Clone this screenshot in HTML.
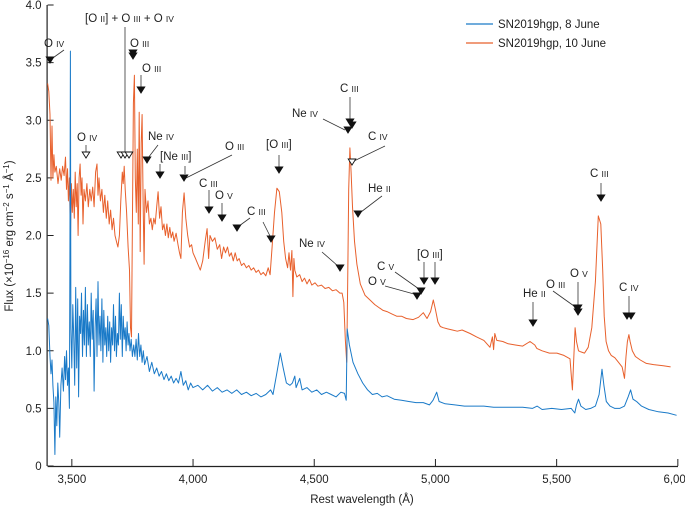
<!DOCTYPE html>
<html><head><meta charset="utf-8"><style>
html,body{margin:0;padding:0;background:#fff;}
svg{display:block;font-family:"Liberation Sans",Arial,sans-serif;}
.lab{font-size:11.5px;fill:#222;}
.sm{font-size:8.5px;}
</style></head><body>
<svg id="chart" width="685" height="516" viewBox="0 0 685 516"></svg>
<script>
const xTicks=[3500,4000,4500,5000,5500,6000];
const xTickLabels=["3,500","4,000","4,500","5,000","5,500","6,000"];
const yTicks=[0,0.5,1,1.5,2,2.5,3,3.5,4];
const yTickLabels=["0","0.5","1.0","1.5","2.0","2.5","3.0","3.5","4.0"];
const blueWave=[3400,3405,3410,3414,3418,3422,3426,3430,3434,3438,3442,3446,3450,3455,3460,3465,3470,3474,3478,3482,3486,3490,3492,3494,3496,3500,3504,3508,3512,3516,3520,3524,3528,3532,3536,3540,3544,3548,3552,3556,3560,3564,3568,3572,3576,3580,3584,3588,3592,3596,3600,3604,3608,3612,3616,3620,3624,3628,3632,3636,3640,3644,3648,3652,3656,3660,3664,3668,3672,3676,3680,3684,3688,3692,3696,3700,3704,3708,3712,3716,3720,3724,3728,3732,3736,3740,3745,3750,3755,3760,3765,3770,3775,3780,3785,3790,3795,3800,3810,3820,3830,3840,3850,3860,3870,3880,3890,3900,3910,3920,3930,3940,3950,3960,3970,3980,3990,4000,4020,4040,4060,4080,4100,4120,4140,4160,4180,4200,4220,4240,4260,4280,4300,4320,4330,4345,4360,4372,4385,4400,4410,4420,4425,4440,4450,4470,4490,4510,4530,4550,4570,4590,4610,4625,4632,4636,4645,4660,4680,4700,4720,4740,4760,4780,4800,4830,4860,4890,4920,4950,4975,4990,5005,5015,5040,5080,5120,5160,5200,5240,5280,5320,5360,5400,5420,5440,5480,5520,5560,5575,5582,5590,5600,5620,5640,5660,5675,5687,5695,5705,5720,5740,5760,5780,5795,5805,5815,5830,5850,5880,5920,5960,5995];
const blueFlux=[1.28,1.22,0.95,0.80,0.92,0.70,0.55,0.10,0.60,0.35,0.72,0.55,0.25,0.70,0.85,0.65,0.95,0.75,1.00,0.70,0.85,0.50,1.80,3.60,1.20,0.85,1.40,1.10,0.70,1.55,0.85,1.45,0.60,1.30,1.15,1.50,0.95,1.35,1.05,1.55,0.95,1.40,1.05,1.25,0.95,1.50,1.10,1.35,0.65,1.20,1.45,0.95,1.60,1.05,1.30,1.00,1.45,0.90,1.35,1.05,1.20,0.95,1.30,1.00,1.25,0.90,1.20,1.05,1.40,1.00,1.30,0.95,1.15,1.05,1.50,1.10,1.40,0.95,1.30,1.10,1.20,1.00,1.25,1.05,1.15,1.00,1.10,0.95,1.05,0.95,1.10,0.92,1.15,0.95,1.05,0.90,1.00,0.88,0.95,0.82,0.90,0.80,0.85,0.78,0.82,0.75,0.80,0.74,0.78,0.72,0.76,0.72,0.82,0.70,0.74,0.66,0.72,0.68,0.70,0.66,0.70,0.65,0.68,0.64,0.66,0.63,0.66,0.62,0.64,0.61,0.63,0.60,0.62,0.66,0.62,0.80,0.98,0.85,0.72,0.70,0.72,0.78,0.68,0.76,0.66,0.68,0.64,0.66,0.62,0.64,0.62,0.60,0.64,0.63,0.57,1.19,1.05,0.90,0.80,0.72,0.66,0.62,0.63,0.60,0.61,0.58,0.57,0.56,0.55,0.55,0.53,0.57,0.64,0.56,0.54,0.53,0.52,0.52,0.52,0.51,0.51,0.51,0.51,0.50,0.52,0.49,0.50,0.49,0.50,0.46,0.53,0.58,0.52,0.49,0.50,0.52,0.62,0.84,0.70,0.56,0.52,0.50,0.50,0.52,0.60,0.66,0.58,0.56,0.52,0.49,0.47,0.46,0.44];
const orangeWave=[3400,3405,3410,3414,3418,3422,3426,3430,3436,3443,3450,3456,3462,3468,3474,3478,3482,3486,3490,3494,3498,3502,3506,3510,3514,3518,3522,3526,3530,3534,3538,3542,3546,3550,3556,3562,3568,3574,3580,3586,3592,3598,3604,3608,3612,3618,3624,3630,3636,3642,3648,3654,3660,3666,3672,3678,3684,3690,3696,3702,3708,3712,3716,3720,3726,3732,3738,3742,3746,3750,3754,3758,3762,3766,3770,3774,3778,3782,3786,3790,3794,3798,3802,3808,3814,3820,3826,3832,3838,3844,3850,3856,3862,3868,3874,3880,3886,3892,3898,3904,3910,3916,3922,3930,3938,3944,3950,3956,3963,3970,3978,3986,3994,4000,4010,4020,4030,4040,4050,4058,4064,4070,4080,4090,4100,4110,4118,4126,4134,4142,4150,4158,4166,4174,4182,4190,4200,4210,4220,4230,4240,4250,4260,4270,4280,4290,4300,4310,4318,4326,4336,4346,4356,4366,4374,4382,4390,4396,4402,4408,4412,4416,4420,4428,4440,4450,4460,4470,4480,4490,4503,4515,4530,4545,4560,4575,4590,4606,4615,4622,4628,4634,4638,4642,4647,4652,4658,4666,4676,4690,4710,4730,4750,4770,4784,4800,4820,4840,4860,4880,4908,4930,4950,4965,4980,4991,5000,5010,5020,5032,5050,5070,5090,5110,5143,5170,5200,5225,5235,5240,5245,5253,5278,5300,5330,5360,5390,5410,5418,5440,5470,5501,5530,5555,5565,5572,5576,5582,5590,5600,5615,5630,5645,5660,5672,5682,5690,5696,5704,5714,5725,5740,5755,5770,5780,5786,5792,5798,5803,5812,5825,5845,5870,5900,5940,5970,5998];
const orangeFlux=[3.32,3.25,3.05,2.48,2.95,2.50,2.70,2.55,2.60,2.45,2.58,2.48,2.60,2.52,2.68,2.40,2.58,2.30,2.50,1.97,2.45,2.20,2.40,2.15,2.55,2.25,2.45,2.00,2.50,2.62,2.35,2.50,2.10,2.40,2.30,2.45,2.25,2.40,2.30,2.42,2.25,2.55,2.62,2.35,2.50,2.30,2.40,2.20,2.35,2.15,2.30,2.10,2.22,2.05,2.15,2.00,1.95,1.90,2.00,2.30,2.55,2.45,2.60,2.40,2.20,1.90,1.70,1.20,1.12,2.10,3.15,3.39,2.50,2.20,2.75,2.10,3.07,1.86,2.80,3.05,2.30,1.75,2.40,2.20,2.30,2.10,2.15,2.05,2.15,2.10,2.25,2.38,2.15,2.25,2.05,2.10,2.00,2.10,1.98,2.07,1.98,2.03,1.95,2.02,1.92,1.85,1.80,2.20,2.37,2.15,2.00,1.90,1.92,1.85,1.80,1.75,1.70,1.78,1.95,2.06,1.80,2.00,1.95,1.98,1.88,1.92,1.80,1.90,1.85,1.90,1.82,1.85,1.78,1.85,1.78,1.80,1.74,1.76,1.72,1.74,1.70,1.72,1.68,1.70,1.66,1.68,1.65,1.72,1.66,1.90,2.20,2.41,2.38,2.20,1.95,1.80,1.72,1.85,1.70,1.87,1.47,1.80,1.70,1.64,1.66,1.60,1.63,1.58,1.62,1.57,1.59,1.56,1.57,1.54,1.55,1.52,1.53,1.50,1.50,1.42,1.10,0.90,1.60,2.40,2.76,2.55,2.25,1.95,1.75,1.58,1.48,1.44,1.40,1.37,1.35,1.34,1.32,1.30,1.30,1.28,1.27,1.29,1.33,1.28,1.34,1.44,1.36,1.25,1.21,1.20,1.19,1.18,1.17,1.18,1.15,1.12,1.09,1.03,1.12,1.01,1.15,1.09,1.08,1.06,1.05,1.04,1.08,1.05,1.02,1.00,0.98,0.98,0.96,0.93,0.66,1.00,1.20,1.08,1.00,0.99,0.98,1.03,1.20,1.60,2.17,2.10,1.70,1.30,1.08,1.00,0.96,0.94,0.90,0.86,0.76,0.95,1.08,1.14,1.08,1.00,0.95,0.92,0.89,0.88,0.87,0.86];

const NS="http://www.w3.org/2000/svg";
const svg=document.getElementById('chart');
const X0=47.6,XS=121.2/500,Y0=466,YS=115.25;
function xs(w){return X0+(w-3400)*XS;}
function ys(f){return Y0-f*YS;}
function el(t,a,p){const e=document.createElementNS(NS,t);for(const k in a)e.setAttribute(k,a[k]);(p||svg).appendChild(e);return e;}

const ax=el('path',{d:`M${X0-0.5},${Y0} L${X0-0.5},5 M${X0},${Y0+0.5} L678,${Y0+0.5}`,stroke:'#222','stroke-width':1.2,fill:'none'});


yTicks.forEach((v,i)=>{
  const y=ys(v);
  const t=el('line',{x1:X0,x2:X0+6,y1:y,y2:y,stroke:'#222','stroke-width':1});
  
  
  const l=el('text',{x:X0-6,y:y+4,'text-anchor':'end',class:'lab'});l.textContent=yTickLabels[i];
  
  
});
xTicks.forEach((v,i)=>{
  const x=xs(v);
  const t=el('line',{x1:x,x2:x,y1:Y0,y2:Y0-7,stroke:'#222','stroke-width':1});
  
  
  const l=el('text',{x:x,y:Y0+17,'text-anchor':'middle',class:'lab'});l.textContent=xTickLabels[i];
  
  
});
const xt=el('text',{x:362,y:503,'text-anchor':'middle',class:'lab'});xt.textContent='Rest wavelength (Å)';


const yt=el('text',{x:0,y:0,'text-anchor':'middle',class:'lab',transform:'translate(13,236) rotate(-90)'});
yt.innerHTML='Flux (×10<tspan dy="-4" font-size="8">−16</tspan><tspan dy="4"> erg cm</tspan><tspan dy="-4" font-size="8">−2</tspan><tspan dy="4"> s</tspan><tspan dy="-4" font-size="8">−1</tspan><tspan dy="4"> Å</tspan><tspan dy="-4" font-size="8">−1</tspan><tspan dy="4">)</tspan>';



function series(w,f,c,name){
  let d='';w.forEach((v,i)=>{d+=(i?'L':'M')+xs(v).toFixed(1)+','+ys(f[i]).toFixed(1);});
  const p=el('path',{d:d,stroke:c,'stroke-width':1.0,fill:'none','stroke-linejoin':'round'});
  
  
}
series(orangeWave,orangeFlux,'#e8602c','series-10-june');
series(blueWave,blueFlux,'#1a7ac8','series-8-june');

const lg=el('g',{});


[['#1a7ac8','SN2019hgp, 8 June',24],['#e8602c','SN2019hgp, 10 June',43]].forEach(a=>{
  el('line',{x1:466,x2:493,y1:a[2],y2:a[2],stroke:a[0],'stroke-width':1.3},lg);
  const t=el('text',{x:498,y:a[2]+4,class:'lab'},lg);t.textContent=a[1];
  
  
});

const ann=[
 ['O','IV',44,47,[[64,50,50,60]],[[50,63,0]]],
 ['[O','II] + O III + O IV',85,22,[[125,27,125,154]],[[121,158,1],[125,158,1],[129,158,1]]],
 ['O','III',130,47,[[133,50,133,53]],[[133,56,0],[133,59,0]]],
 ['O','III',142,72,[[141,75,141,88]],[[141,93,0]]],
 ['O','IV',77,141,[[86,145,86,153]],[[86,158,1]]],
 ['Ne','IV',148,140,[[158,145,148,158]],[[147,163,0]]],
 ['[Ne','III]',160,160,[[160,164,160,173]],[[160,178,0]]],
 ['O','III',225,150,[[232,155,186,178],[185,166,185,174]],[[184,181,0]]],
 ['C','III',199,187,[[209,190,209,208]],[[209,213,0]]],
 ['O','V',215,199,[[222,203,222,216]],[[222,221,0]]],
 ['C','III',247,215,[[250,218,239,226],[263,222,270,236]],[[237,231,0],[271,242,0]]],
 ['[O','III]',266,148,[[279,155,279,168]],[[279,173,0]]],
 ['C','III',340,92,[[350,97,350,120]],[[350,125,0],[352,128,0],[348,133,0]]],
 ['Ne','IV',292,117,[[323,119,345,130]],[]],
 ['C','IV',368,140,[[385,146,354,161]],[[352,165,1]]],
 ['He','II',368,192,[[382,196,361,212]],[[358,217,0]]],
 ['Ne','IV',299,247,[[322,252,338,266]],[[340,271,0]]],
 ['C','V',377,270,[[395,272,419,289]],[[421,294,0]]],
 ['O','V',368,285,[[385,286,414,294]],[[417,299,0]]],
 ['[O','III]',417,258,[[424,262,424,280],[435,262,435,280]],[[424,284,0],[435,284,0]]],
 ['He','II',523,297,[[533,302,533,321]],[[533,326,0]]],
 ['O','III',546,288,[[553,291,574,306]],[[577,311,0]]],
 ['O','V',570,277,[[578,282,578,306]],[[578,311,0],[578,315,0]]],
 ['C','III',590,177,[[601,183,601,196]],[[601,201,0]]],
 ['C','IV',619,291,[[629,296,629,313]],[[627,319,0],[631,319,0]]]
];
ann.forEach(a=>{
  const g=el('g',{});
  
  
  const t=el('text',{x:a[2],y:a[3],class:'lab'},g);
  if(a[1].indexOf('II] +')===0){
    t.innerHTML='[O <tspan class="sm">II</tspan>] + O <tspan class="sm">III</tspan> + O <tspan class="sm">IV</tspan>';
  } else {
    const r=a[1].replace(/[\[\]]/g,'');const br=a[1].endsWith(']')?']':'';
    t.innerHTML=a[0]+' <tspan class="sm">'+r+'</tspan>'+br;
  }
  a[4].forEach(s=>el('line',{x1:s[0],y1:s[1],x2:s[2],y2:s[3],stroke:'#333','stroke-width':0.8},g));
  a[5].forEach(tr=>el('path',{d:`M${tr[0]-3.8},${tr[1]-6} L${tr[0]+3.8},${tr[1]-6} L${tr[0]},${tr[1]} Z`,fill:tr[2]?'#fff':'#111',stroke:'#111','stroke-width':0.9},g));
});
</script>
</body></html>
